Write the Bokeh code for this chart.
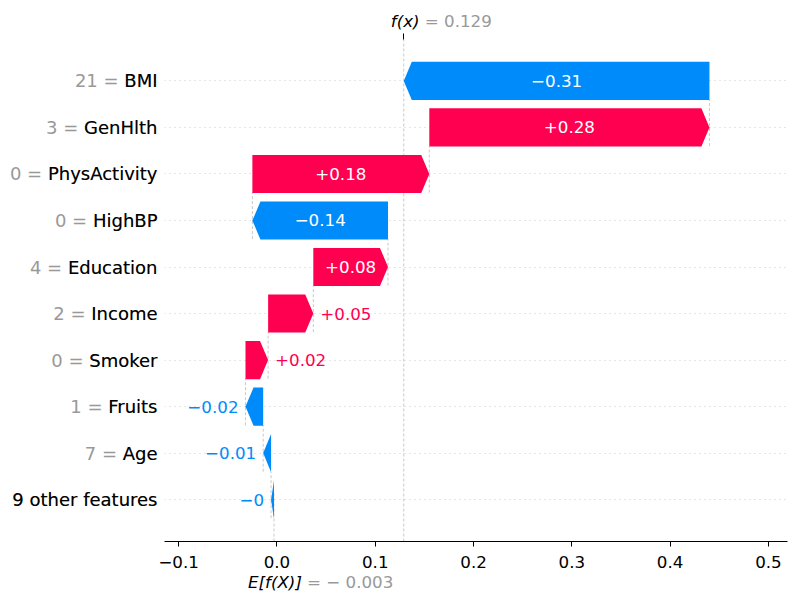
from bokeh.plotting import figure
from bokeh.models import Range1d, FixedTicker, ColumnDataSource, LinearAxis
from bokeh.embed import file_html
from bokeh.resources import INLINE
from bokeh.core.properties import value

# ---- data (bottom row first) ----
features = ["9 other features", "Age", "Fruits", "Smoker", "Income",
            "Education", "HighBP", "PhysActivity", "GenHlth", "BMI"]
feature_values = ["", "7", "1", "0", "2", "4", "0", "0", "3", "21"]
shap_values = [-0.003, -0.008, -0.018, 0.023, 0.046, 0.076, -0.138, 0.180, 0.285, -0.311]
base_value = -0.003
x_ticks = [-0.1, 0.0, 0.1, 0.2, 0.3, 0.4, 0.5]

RED = "#ff0051"
BLUE = "#008bfb"
FONT = "DejaVu Sans"

n = len(features)
rows = list(range(n))
starts, ends = [], []
cum = base_value
for v in shap_values:
    starts.append(cum)
    cum += v
    ends.append(cum)
fx = cum

X0, X1 = -0.1144, 0.5194
Y0, Y1 = -0.90, 9.89

p = figure(width=790, height=592, output_backend="svg", toolbar_location=None,
           x_range=Range1d(X0, X1), y_range=Range1d(Y0, Y1),
           min_border_left=164, min_border_right=3, min_border_top=39, min_border_bottom=51)
p.outline_line_color = None

# axes
p.yaxis.visible = False
p.xgrid.grid_line_color = None
p.ygrid.ticker = FixedTicker(ticks=rows)
p.ygrid.grid_line_color = "#cccccc"
p.ygrid.grid_line_dash = "1 4"
p.ygrid.grid_line_width = 1

xa = p.xaxis[0]
xa.ticker = FixedTicker(ticks=x_ticks)
xa.major_label_overrides = {t: ("%.1f" % t).replace("-", "\u2212") for t in x_ticks}
xa.axis_line_color = "black"
xa.axis_line_width = 1
xa.major_tick_line_color = "black"
xa.major_tick_out = 5
xa.major_tick_in = 0
xa.minor_tick_line_color = None
xa.major_label_text_font = FONT
xa.major_label_text_font_size = "16.7px"
xa.major_label_text_color = "black"
xa.major_label_standoff = 9

top = LinearAxis(ticker=FixedTicker(ticks=[fx]))
top.axis_line_color = None
top.major_tick_line_color = "black"
top.major_tick_out = 6
top.major_tick_in = 0
top.minor_tick_line_color = None
top.major_label_text_alpha = 0
top.major_label_text_font_size = "1px"
p.add_layout(top, "above")

# connector lines
cx0, cy0, cy1 = [], [], []
for r in rows[:-1]:
    cx0.append(ends[r]); cy0.append(r - 0.4); cy1.append(r + 0.6)
cx0.append(fx); cy0.append(Y0); cy1.append(Y1)
cx0.append(base_value); cy0.append(Y0); cy1.append(Y0 + (Y1 - Y0) / n)
p.segment(x0=cx0, y0=cy0, x1=cx0, y1=cy1, line_color="#bbbbbb", line_width=0.8, line_dash="3 2")

# bars
hl_full = 0.0082
hh = 0.41
xs, ys, cols = [], [], []
for r in rows:
    s, e, v = starts[r], ends[r], shap_values[r]
    hl = min(hl_full, abs(v))
    d = 1 if v > 0 else -1
    neck = e - d * hl
    xs.append([s, neck, e, neck, s])
    ys.append([r - hh, r - hh, r, r + hh, r + hh])
    cols.append(RED if v > 0 else BLUE)
p.patches(xs=xs, ys=ys, fill_color=cols, line_color=None)

# bar labels
def fmt(v):
    s = "%+0.2f" % v
    s = s.rstrip("0").rstrip(".")
    return s.replace("-", "\u2212")

lx, ltxt, lal, lcol, loff = [], [], [], [], []
for r in rows:
    s, e, v = starts[r], ends[r], shap_values[r]
    ltxt.append(fmt(v))
    if abs(v) > 0.06:
        lx.append((s + e) / 2); lal.append("center"); lcol.append("white"); loff.append(0)
    else:
        lx.append(e)
        lal.append("left" if v > 0 else "right")
        lcol.append(cols[r])
        loff.append(7 if v > 0 else -7)
lsrc = ColumnDataSource(dict(x=lx, y=rows, text=ltxt, align=lal, color=lcol, off=loff))
p.text(x="x", y="y", text="text", source=lsrc, text_align="align", text_color="color",
       x_offset="off", text_baseline="middle", text_font_size="16.7px",
       text_font=value(FONT))

# y labels: gray full label behind black feature name (drawn outside the frame)
full = [(fv + " = " + f) if fv else f for fv, f in zip(feature_values, features)]
ysrc = ColumnDataSource(dict(x=[X0] * n, y=rows, full=full, name=features))
p.text(x="x", y="y", text="full", source=ysrc, x_offset=-7, text_align="right",
       text_baseline="middle", text_color="#999999", text_font=value(FONT),
       text_font_size="18px", level="overlay")
p.text(x="x", y="y", text="name", source=ysrc, x_offset=-7, text_align="right",
       text_baseline="middle", text_color="black", text_font=value(FONT),
       text_font_size="18px", level="overlay")

# f(x) and E[f(X)] labels
fy = Y1 + 0.394
ey = Y0 - 0.88
ann_src = ColumnDataSource(dict(
    x=[fx, fx, base_value, base_value],
    y=[fy, fy, ey, ey],
    text=["f(x)", "= %.3f" % fx, "E[f(X)]", ("= %.3f" % base_value).replace("-", "\u2212 ")],
    off=[-13, 21, -26, 33],
    color=["black", "#999999", "black", "#999999"],
    style=["italic", "normal", "italic", "normal"],
))
p.text(x="x", y="y", text="text", source=ann_src, x_offset="off", text_color="color",
       text_font_style="style", text_align="left", text_baseline="middle",
       text_font=value(FONT), text_font_size="16.7px", level="overlay")

open("out.html", "w").write(file_html(p, INLINE))
